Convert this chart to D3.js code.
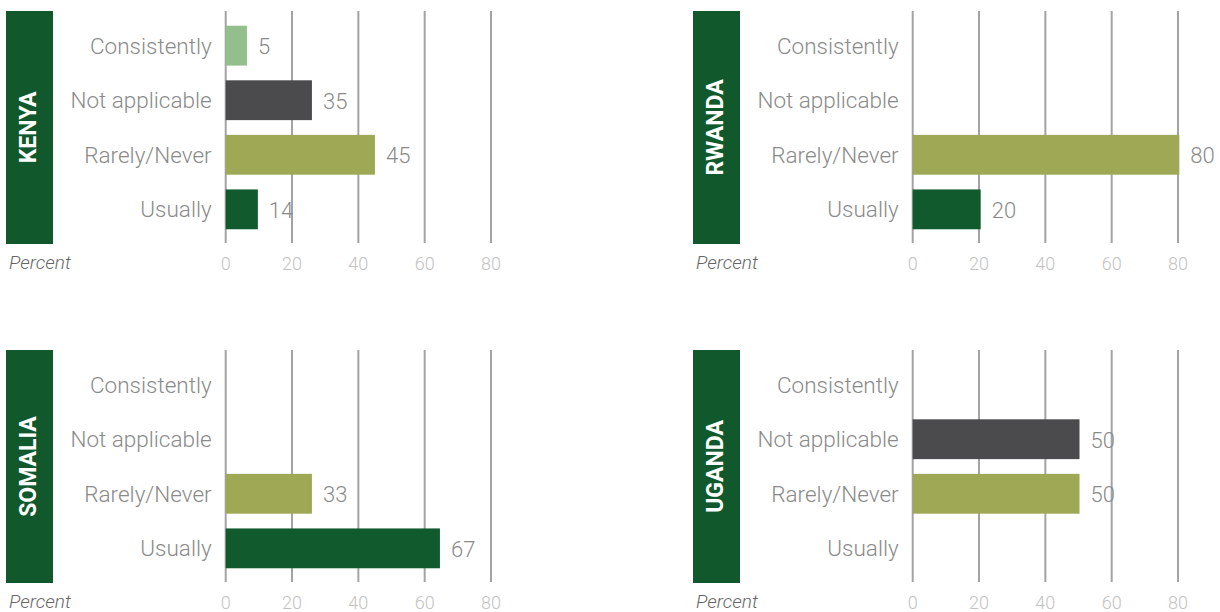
<!DOCTYPE html>
<html>
<head>
<meta charset="utf-8">
<script src="https://cdn.jsdelivr.net/npm/d3@7"></script>
<style>
  body { margin: 0; background: #fff; }
  text { font-family: Roboto, "Noto Sans", sans-serif; }
</style>
</head>
<body>
<div id="chart"></div>
<script>
const width = 1220;
const height = 612;

const categories = ["Consistently", "Not applicable", "Rarely/Never", "Usually"];
const countries = ["KENYA", "RWANDA", "SOMALIA", "UGANDA"];
const xTicks = [0, 20, 40, 60, 80];

// bar lengths as drawn in the picture, and the numbers printed next to them
const kenyaBars = [6.4, 26, 45, 9.7];
const kenyaLabels = ["5", "35", "45", "14"];
const rwandaBars = [null, null, 80.4, 20.5];
const rwandaLabels = [null, null, "80", "20"];
const somaliaBars = [null, null, 26, 64.6];
const somaliaLabels = [null, null, "33", "67"];
const ugandaBars = [null, 50.3, 50.3, null];
const ugandaLabels = [null, "50", "50", null];

const barsByCountry = [kenyaBars, rwandaBars, somaliaBars, ugandaBars];
const labelsByCountry = [kenyaLabels, rwandaLabels, somaliaLabels, ugandaLabels];

const colors = ["#93bf8c", "#4b4b4d", "#9fa855", "#115a2e"];

const svg = d3.select("#chart")
    .append("svg")
        .attr("width", width)
        .attr("height", height);

// one panel geometry, shifted per country
const boxTop = 11, boxBottom = 244;
const boxLeft = 6, boxWidth = 47;
const plotLeft = 225.7, plotRight = 491;

const xScale = d3.scaleLinear()
    .domain([0, 80])
    .range([plotLeft, plotRight]);

const yScale = d3.scaleBand()
    .domain(categories)
    .range([boxTop, boxBottom])
    .padding(0.27);

countries.forEach(function(country, i) {
    const col = i % 2;
    const row = Math.floor(i / 2);
    const g = svg.append("g")
        .attr("transform", "translate(" + (col * 687) + "," + (row * 339) + ")");

    // country tag
    g.append("rect")
        .attr("x", boxLeft)
        .attr("y", boxTop)
        .attr("width", boxWidth)
        .attr("height", boxBottom - boxTop)
        .attr("fill", "#11592d");

    g.append("text")
        .attr("transform", "translate(" + (boxLeft + boxWidth / 2 - 1) + "," + ((boxTop + boxBottom) / 2) + ") rotate(-90)")
        .attr("text-anchor", "middle")
        .attr("dominant-baseline", "central")
        .attr("fill", "#fff")
        .attr("font-weight", 700)
        .attr("font-size", 23)
        .text(country);

    // gridlines
    g.selectAll(".grid")
        .data(xTicks)
        .join("line")
            .attr("class", "grid")
            .attr("x1", d => xScale(d))
            .attr("x2", d => xScale(d))
            .attr("y1", boxTop)
            .attr("y2", boxBottom - 1)
            .attr("stroke", "#a3a3a3")
            .attr("stroke-width", 2);

    // tick labels
    g.selectAll(".tick-label")
        .data(xTicks)
        .join("text")
            .attr("class", "tick-label")
            .attr("x", d => xScale(d))
            .attr("y", boxBottom + 19)
            .attr("text-anchor", "middle")
            .attr("dominant-baseline", "central")
            .attr("font-size", 18)
            .attr("font-weight", 300)
            .attr("fill", "#c2c2c2")
            .text(d => d);

    g.append("text")
        .attr("x", boxLeft + 3)
        .attr("y", boxBottom + 18)
        .attr("dominant-baseline", "central")
        .attr("font-size", 19)
        .attr("font-style", "italic")
        .attr("font-weight", 300)
        .attr("fill", "#666")
        .text("Percent");

    // category labels
    g.selectAll(".cat")
        .data(categories)
        .join("text")
            .attr("class", "cat")
            .attr("x", 211.7)
            .attr("y", d => yScale(d) + yScale.bandwidth() / 2)
            .attr("text-anchor", "end")
            .attr("dominant-baseline", "central")
            .attr("font-size", 22.5)
            .attr("font-weight", 300)
            .attr("fill", "#8a8a8a")
            .text(d => d);

    const rows = categories.map((c, j) => ({
        cat: c,
        value: barsByCountry[i][j],
        label: labelsByCountry[i][j],
        color: colors[j]
    })).filter(d => d.value != null);

    g.selectAll(".bar")
        .data(rows)
        .join("rect")
            .attr("class", "bar")
            .attr("x", xScale(0))
            .attr("y", d => yScale(d.cat))
            .attr("width", d => xScale(d.value) - xScale(0))
            .attr("height", yScale.bandwidth())
            .attr("fill", d => d.color);

    g.selectAll(".value")
        .data(rows)
        .join("text")
            .attr("class", "value")
            .attr("x", d => xScale(d.value) + 11)
            .attr("y", d => yScale(d.cat) + yScale.bandwidth() / 2 + 1)
            .attr("dominant-baseline", "central")
            .attr("font-size", 22)
            .attr("font-weight", 300)
            .attr("fill", "#8a8a8a")
            .text(d => d.label);
});
</script>
</body>
</html>
